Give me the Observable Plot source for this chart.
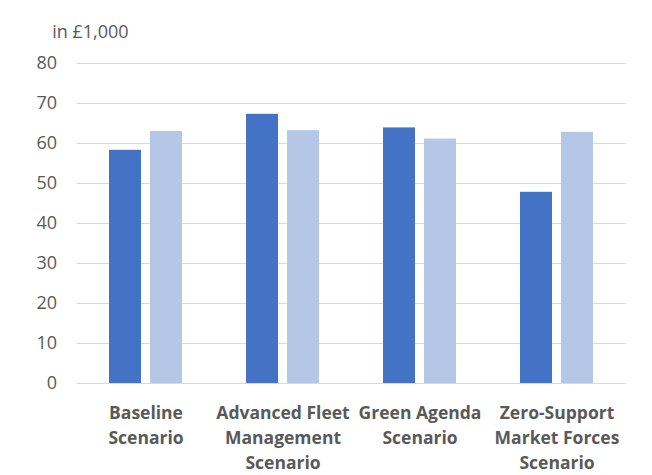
<!DOCTYPE html>
<html>
<head>
<meta charset="utf-8">
<script src="https://cdn.jsdelivr.net/npm/d3@7"></script>
<script src="https://cdn.jsdelivr.net/npm/@observablehq/plot@0.6"></script>
<style>
  html, body { margin: 0; padding: 0; background: #fff; }
  #chart { width: 652px; height: 475px; }
</style>
</head>
<body>
<div id="chart"></div>
<script>
const scenarios = [
  "Baseline\nScenario",
  "Advanced Fleet\nManagement\nScenario",
  "Green Agenda\nScenario",
  "Zero-Support\nMarket Forces\nScenario"
];
const seriesNames = ["Series 1", "Series 2"];
const series1 = [58.3, 67.3, 63.9, 47.8];
const series2 = [63.0, 63.2, 61.1, 62.8];
const yTicks = [0, 10, 20, 30, 40, 50, 60, 70, 80];
const unitLabel = "in £1,000";

const data = [];
scenarios.forEach((s, i) => {
  data.push({scenario: s, series: seriesNames[0], value: series1[i]});
  data.push({scenario: s, series: seriesNames[1], value: series2[i]});
});

const W = 652, ML = 75, MR = 26;
const fxPadInner = 0.47, fxPadOuter = 0.235;
const step = (W - ML - MR) / (scenarios.length - fxPadInner + 2 * fxPadOuter);
const outerGap = step * fxPadOuter;

const chart = Plot.plot({
  width: W,
  height: 475,
  marginTop: 63,
  marginBottom: 92,
  marginLeft: ML,
  marginRight: MR,
  style: {fontFamily: "'Open Sans', sans-serif", fontSize: "18px", color: "#595959", background: "#fff"},
  fx: {domain: scenarios, paddingInner: fxPadInner, paddingOuter: fxPadOuter, label: null},
  x: {domain: seriesNames, paddingInner: 0.22, paddingOuter: 0, axis: null},
  y: {domain: [0, 80], label: null},
  color: {domain: seriesNames, range: ["#4472C4", "#B4C7E7"]},
  marks: [
    Plot.ruleY(yTicks, {stroke: "#d9d9d9", strokeWidth: 1, insetLeft: -outerGap, insetRight: -outerGap}),
    Plot.axisY(yTicks, {tickSize: 0, tickPadding: 20 + outerGap, fill: "#595959", fontSize: 18, label: null}),
    Plot.axisFx({anchor: "bottom", tickSize: 0, tickPadding: 18, fontWeight: "bold", fontSize: 17.5, lineHeight: 1.43, fill: "#595959", label: null}),
    Plot.barY(data, {fx: "scenario", x: "series", y: "value", fill: "series"}),
    Plot.text([unitLabel], {frameAnchor: "top-left", text: d => d, dx: -25 - outerGap, dy: -38, textAnchor: "start", fill: "#595959", fontSize: 18, facet: "super"})
  ]
});
document.getElementById("chart").appendChild(chart);
</script>
</body>
</html>
